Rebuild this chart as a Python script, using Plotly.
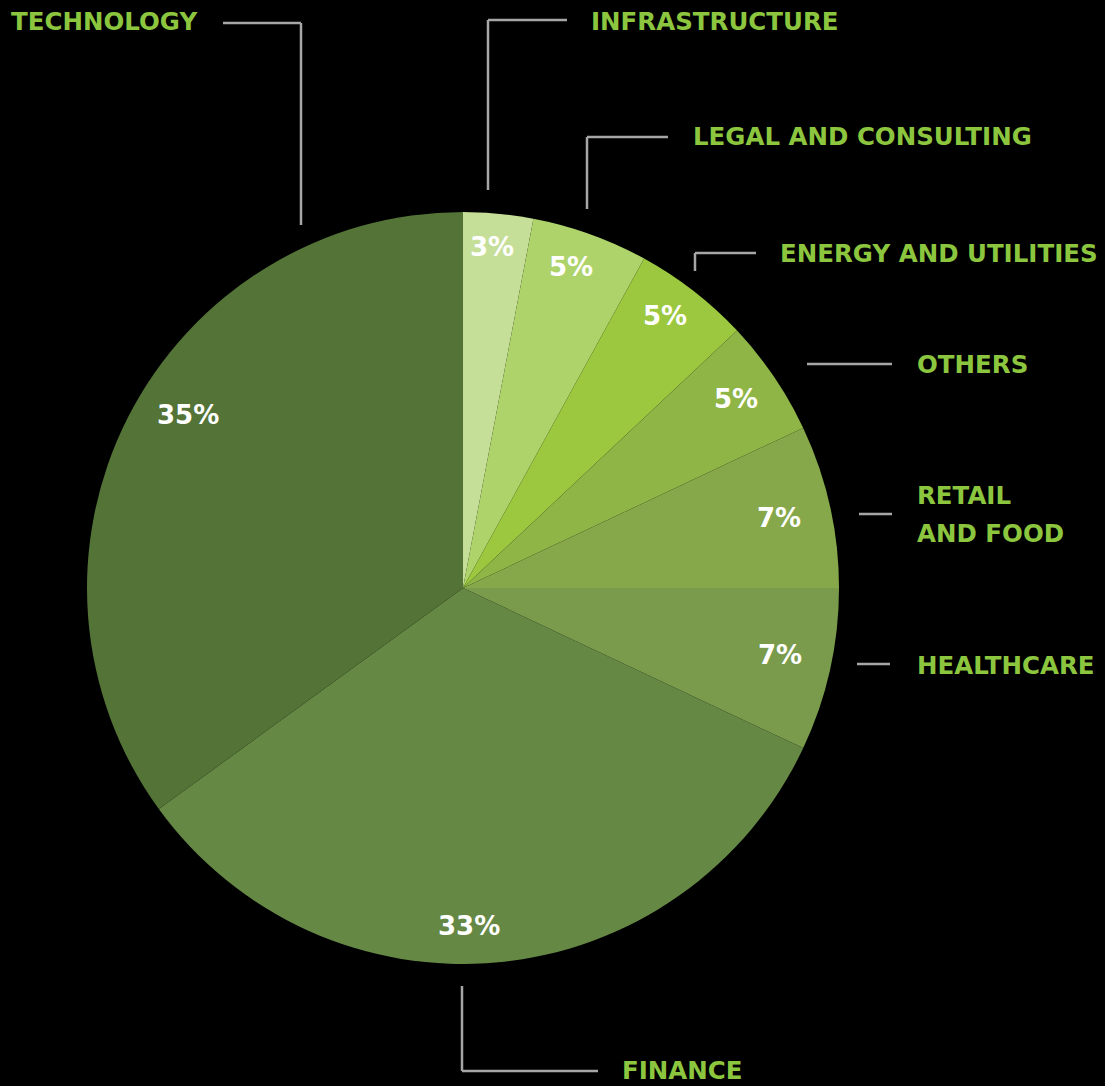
import math
import plotly.graph_objects as go

# Sector shares (percent), clockwise from 12 o'clock
sectors = ["INFRASTRUCTURE", "LEGAL AND CONSULTING", "ENERGY AND UTILITIES", "OTHERS",
           "RETAIL<br>AND FOOD", "HEALTHCARE", "FINANCE", "TECHNOLOGY"]
shares = [3, 5, 5, 5, 7, 7, 33, 35]
slice_colors = ["#c5de98", "#aed36a", "#9bc83f", "#8fb547", "#86a74a",
                "#7a9b4c", "#668845", "#537337"]

W, H = 1105, 1086
CX, CY, R = 463, 588, 376          # pie centre and radius in pixels
FONT = "DejaVu Sans"
LABEL_GREEN = "#8cc63f"
LINE_GREY = "#a6a6a6"
LINE_STEP = 37                      # spacing of wrapped label lines, px

# radial position (fraction of radius) and angular nudge (deg) of each percent label
pct_radius = [0.91, 0.90, 0.90, 0.883, 0.86, 0.862, 0.898, 0.863]
pct_nudge = [-0.5, -1.2, -1.2, -0.5, 0.1, -0.7, 4.4, 5.2]

# outside label anchor (left x, centre y of first line) and leader polyline, in pixels
outer_label_xy = [(590, 22), (692, 137), (779, 254), (916, 364),
                  (916, 496), (916, 665), (621, 1070), (10, 22)]
leaders = [
    [(488, 190), (488, 20), (567, 20)],
    [(587, 209), (587, 137), (668, 137)],
    [(695, 271), (695, 253), (756, 253)],
    [(807, 364), (892, 364)],
    [(859, 514), (892, 514)],
    [(857, 664), (890, 664)],
    [(462, 986), (462, 1071), (598, 1071)],
    [(223, 23), (301, 23), (301, 225)],
]


def px(x):
    return x / W


def py(y):
    return 1 - y / H


fig = go.Figure(go.Pie(
    labels=sectors,
    values=shares,
    sort=False,
    direction="clockwise",
    rotation=0,
    textinfo="none",
    hoverinfo="label+percent",
    marker=dict(colors=slice_colors, line=dict(width=0)),
    domain=dict(x=[px(CX - R), px(CX + R)], y=[py(CY + R), py(CY - R)]),
    showlegend=False,
))

annotations = []
cum = 0
total = sum(shares)
for i, v in enumerate(shares):
    mid = (cum + v / 2) / total * 360 + pct_nudge[i]
    cum += v
    r = R * pct_radius[i]
    x = CX + r * math.sin(math.radians(mid))
    y = CY - r * math.cos(math.radians(mid))
    annotations.append(dict(
        x=px(x), y=py(y), xref="paper", yref="paper",
        text=f"{v}%", showarrow=False, xanchor="center", yanchor="middle",
        font=dict(family=FONT, size=26, color="white", weight=700),
    ))

# sector names; wrapped names are set line by line for wider leading
for name, (lx, ly) in zip(sectors, outer_label_xy):
    for k, line in enumerate(name.split("<br>")):
        annotations.append(dict(
            x=px(lx), y=py(ly + k * LINE_STEP), xref="paper", yref="paper",
            text=line, showarrow=False, xanchor="left", yanchor="middle", align="left",
            font=dict(family=FONT, size=24.5, color=LABEL_GREEN, weight=700),
            borderpad=0,
        ))

shapes = []
for pts in leaders:
    for (x0, y0), (x1, y1) in zip(pts[:-1], pts[1:]):
        shapes.append(dict(
            type="line", xref="paper", yref="paper",
            x0=px(x0), y0=py(y0), x1=px(x1), y1=py(y1),
            line=dict(color=LINE_GREY, width=2.5),
        ))

fig.update_layout(
    width=W, height=H,
    margin=dict(l=0, r=0, t=0, b=0),
    paper_bgcolor="black",
    plot_bgcolor="black",
    annotations=annotations,
    shapes=shapes,
)

fig.write_html("out.html")
